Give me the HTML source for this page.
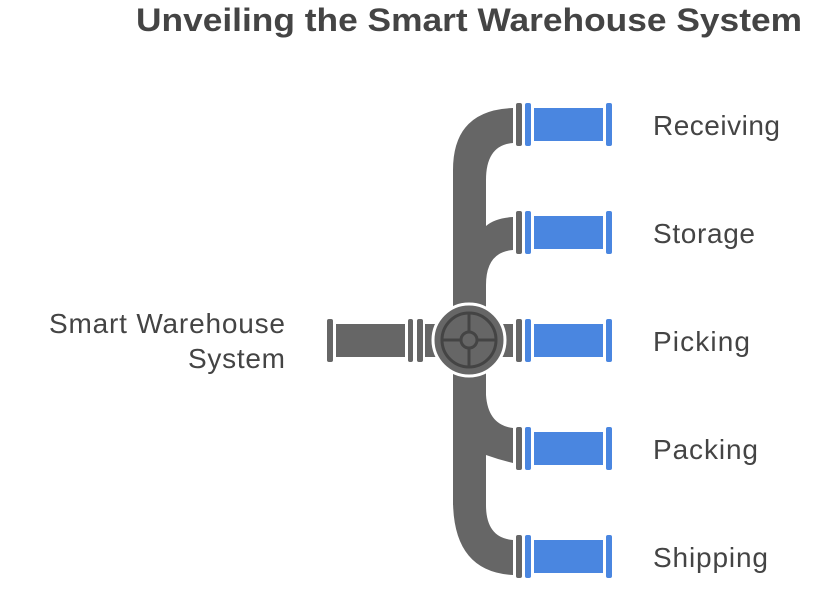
<!DOCTYPE html>
<html><head><style>body{margin:0;background:#fff}svg{display:block}</style></head><body>
<svg width="831" height="592" viewBox="0 0 831 592" xmlns="http://www.w3.org/2000/svg">
<text x="136" y="31" font-family="Liberation Sans, sans-serif" font-weight="bold" font-size="32" fill="#444" textLength="666" lengthAdjust="spacingAndGlyphs">Unveiling the Smart Warehouse System</text>
<g fill="#666">
<path d="M453 505 L453 170 Q453 110 513 108 L513 143 Q486 145 486 180 L486 505 Z"/>
<path d="M453 500 Q453 572 513 575 L513 540 Q486 538 486 505 Z"/>
<path d="M486 226 Q495 218 513 217 L513 250 Q486 252 486 285 Z"/>
<path d="M486 395 Q488 425 513 428 L513 463 Q500 460 486 455 Z"/>
<rect x="425" y="324" width="15" height="33"/>
<rect x="498" y="324" width="15" height="33"/>
<rect x="327" y="319" width="6" height="43" rx="2"/>
<rect x="336" y="324" width="69" height="33"/>
<rect x="408" y="319" width="5" height="43" rx="2"/>
<rect x="417" y="319" width="6" height="43" rx="2"/>
</g>
<g id="r">
<rect x="516" y="103" width="6" height="43" rx="2" fill="#666"/>
<rect x="525" y="103" width="6" height="43" rx="2" fill="#4a86e0"/>
<rect x="534" y="108" width="69" height="33" fill="#4a86e0"/>
<rect x="606" y="103" width="6" height="43" rx="2" fill="#4a86e0"/>
</g>
<use href="#r" y="108"/><use href="#r" y="216"/><use href="#r" y="324"/><use href="#r" y="432"/>
<circle cx="469" cy="340" r="36" fill="#666" stroke="#fff" stroke-width="3"/>
<g fill="none" stroke="#444" stroke-width="3">
<circle cx="469" cy="340" r="27"/>
<circle cx="469" cy="340" r="8"/>
<path d="M469 313V332M469 348V367M442 340H461M477 340H496"/>
</g>
<g font-family="Liberation Sans, sans-serif" font-size="28" fill="#444" lengthAdjust="spacingAndGlyphs">
<text x="653" y="135" textLength="127">Receiving</text>
<text x="653" y="243" textLength="102">Storage</text>
<text x="653" y="351" textLength="97">Picking</text>
<text x="653" y="459" textLength="105">Packing</text>
<text x="653" y="567" textLength="115">Shipping</text>
<text x="49" y="333" textLength="236">Smart Warehouse</text>
<text x="188" y="368" textLength="97">System</text>
</g>
</svg>
</body></html>
